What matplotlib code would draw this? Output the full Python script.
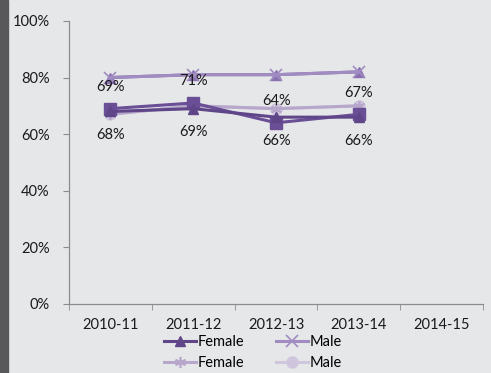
import numpy as np
import matplotlib.pyplot as plt

plt.rcParams['font.family'] = ['Lato', 'DejaVu Sans']

years = ['2010-11', '2011-12', '2012-13', '2013-14', '2014-15']
female_dark = [68, 69, 66, 66]
female_sq = [69, 71, 64, 67]
male_mid = [80, 81, 81, 82]
female_light = [67, 70, 69, 70]
male_light = [67, 70, 69, 70]

bg = '#e6e7e9'
fs = 10.5
fig = plt.figure(figsize=(4.91, 3.73), dpi=100, facecolor=bg)
ax = fig.add_axes([0.1405, 0.185, 0.8435, 0.759], facecolor=bg)
fig.patches.append(plt.Rectangle((0, 0), 8 / 491, 1, transform=fig.transFigure,
                                 color='#58585a', zorder=0))

x = np.arange(4)
lw = 2.2
h_ml, = ax.plot(x, male_light, color='#cfc6dd', lw=lw, marker='o', ms=8, zorder=2)
h_fl, = ax.plot(x, female_light, color='#b6a7cb', lw=lw, marker=(6, 2, 0), ms=8,
                mew=1.2, zorder=2)
ax.plot(x, male_mid, color='#8a70b0', lw=lw, marker='^', ms=7, zorder=3)
h_mm, = ax.plot(x, male_mid, color='#a08cc0', lw=lw, marker='x', ms=8, mew=1.2, zorder=3)
ax.plot(x, female_sq, color='#6a4f96', lw=lw, marker='s', ms=9, zorder=4)
h_fd, = ax.plot(x, female_dark, color='#5e4688', lw=lw, marker='^', ms=7, zorder=5)

for i in range(4):
    ax.annotate(f'{female_sq[i]}%', (x[i], female_sq[i]), xytext=(0, 15.5),
                textcoords='offset points', ha='center', va='center', fontsize=fs,
                color='#1a1a1a', zorder=6)
    ax.annotate(f'{female_dark[i]}%', (x[i], female_dark[i]), xytext=(0, -17),
                textcoords='offset points', ha='center', va='center', fontsize=fs,
                color='#1a1a1a', zorder=6)

ax.set_xlim(-0.5, 4.5)
ax.set_ylim(0, 100)
ax.set_xticks(np.arange(5))
ax.set_xticklabels(years, fontsize=fs, color='#1a1a1a')
ax.set_xticks(np.arange(-0.5, 5, 1), minor=True)
ax.tick_params(axis='x', which='major', length=0, pad=10)
ax.tick_params(axis='x', which='minor', length=4, color='#8c8c8c', direction='out')
ax.set_yticks(np.arange(0, 101, 20))
ax.set_yticklabels([f'{v}%' for v in range(0, 101, 20)], fontsize=fs, color='#1a1a1a')
ax.tick_params(axis='y', length=4, color='#8c8c8c', pad=10)
for s in ['top', 'right']:
    ax.spines[s].set_visible(False)
for s in ['left', 'bottom']:
    ax.spines[s].set_color('#8c8c8c')
    ax.spines[s].set_linewidth(0.9)

fig.legend([h_fd, h_fl, h_mm, h_ml], ['Female', 'Female', 'Male', 'Male'], ncol=2,
           loc='center', bbox_to_anchor=(0.515, 0.055), frameon=False, fontsize=fs,
           handlelength=2.2, handletextpad=0.1, columnspacing=2.2, labelspacing=0.5,
           borderpad=0)

fig.savefig('out.png', dpi=100, facecolor=bg)
